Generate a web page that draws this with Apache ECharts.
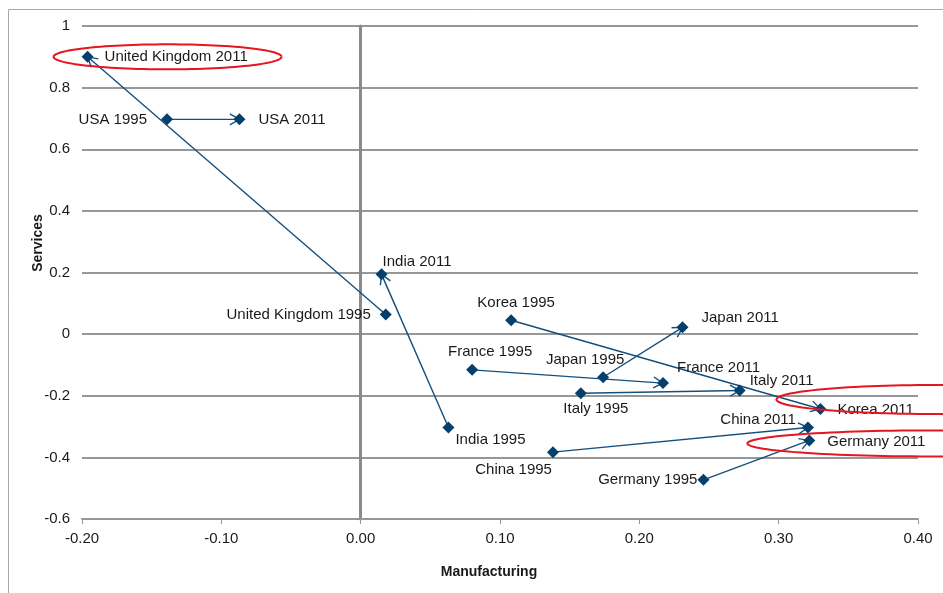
<!DOCTYPE html>
<html>
<head>
<meta charset="utf-8">
<script src="https://cdn.jsdelivr.net/npm/echarts@6/dist/echarts.min.js"></script>
<style>
  html, body { margin: 0; padding: 0; background: #fff; }
  #chart { width: 943px; height: 593px; }
</style>
</head>
<body>
<div id="chart"></div>
<script>
// Change in revealed comparative advantage, 1995 -> 2011
const countries = ['United Kingdom', 'USA', 'India', 'Korea', 'Japan', 'France', 'Italy', 'China', 'Germany'];
const manufacturing1995 = [0.018, -0.139, 0.063, 0.108, 0.174, 0.080, 0.158, 0.138, 0.246];
const services1995      = [0.064, 0.697, -0.303, 0.045, -0.140, -0.116, -0.192, -0.383, -0.473];
const manufacturing2011 = [-0.196, -0.087, 0.015, 0.330, 0.231, 0.217, 0.272, 0.321, 0.322];
const services2011      = [0.900, 0.697, 0.194, -0.243, 0.022, -0.159, -0.183, -0.303, -0.345];
const years = ['1995', '2011'];
const highlighted = ['United Kingdom', 'Korea', 'Germany'];

const xTicks = { min: -0.2, max: 0.4, step: 0.1 };
const yTicks = { min: -0.6, max: 1.0, step: 0.2 };

// Label placement around each diamond: pixel offset from the point and text alignment
const labelPlacement = {
  'United Kingdom 1995': { dx: -15, dy: 0, align: 'right' },
  'United Kingdom 2011': { dx: 17, dy: 0, align: 'left' },
  'USA 1995': { dx: -20, dy: 0, align: 'right' },
  'USA 2011': { dx: 19, dy: 0, align: 'left' },
  'India 1995': { dx: 7, dy: 12, align: 'left' },
  'India 2011': { dx: 1, dy: -12, align: 'left' },
  'Korea 1995': { dx: 5, dy: -17, align: 'center' },
  'Korea 2011': { dx: 17, dy: 1, align: 'left' },
  'Japan 1995': { dx: -18, dy: -17, align: 'center' },
  'Japan 2011': { dx: 19, dy: -9, align: 'left' },
  'France 1995': { dx: 18, dy: -18, align: 'center' },
  'France 2011': { dx: 14, dy: -15, align: 'left' },
  'Italy 1995': { dx: 15, dy: 16, align: 'center' },
  'Italy 2011': { dx: 10, dy: -10, align: 'left' },
  'China 1995': { dx: -1, dy: 18, align: 'right' },
  'China 2011': { dx: -12, dy: -8, align: 'right' },
  'Germany 1995': { dx: -6, dy: 0, align: 'right' },
  'Germany 2011': { dx: 18, dy: 1, align: 'left' }
};

// Red ring drawn around the highlighted 2011 labels (pixel offsets and radii)
const ringStyle = {
  'United Kingdom': { dx: 80, dy: 0, rx: 114, ry: 12.5 },
  'Korea': { dx: 114, dy: -9.5, rx: 158, ry: 14.5 },
  'Germany': { dx: 121, dy: 3, rx: 183, ry: 13 }
};

const MARK_COLOR = '#053f6b';
const ARROW_COLOR = '#154f7c';
const GRID_COLOR = '#979797';
const TEXT_FONT = '15px "Liberation Sans", Arial, sans-serif';

const points1995 = countries.map((c, i) => [manufacturing1995[i], services1995[i], c + ' ' + years[0]]);
const points2011 = countries.map((c, i) => [manufacturing2011[i], services2011[i], c + ' ' + years[1]]);
const arrows = countries.map((c, i) => [manufacturing1995[i], services1995[i], manufacturing2011[i], services2011[i]]);
const rings = highlighted.map(c => {
  const i = countries.indexOf(c);
  return [manufacturing2011[i], services2011[i], c];
});

function renderArrow(params, api) {
  const p0 = api.coord([api.value(0), api.value(1)]);
  const p1 = api.coord([api.value(2), api.value(3)]);
  const ang = Math.atan2(p1[1] - p0[1], p1[0] - p0[0]);
  const len = 11, spread = 0.52;
  const a1 = [p1[0] - len * Math.cos(ang - spread), p1[1] - len * Math.sin(ang - spread)];
  const a2 = [p1[0] - len * Math.cos(ang + spread), p1[1] - len * Math.sin(ang + spread)];
  const style = { stroke: ARROW_COLOR, lineWidth: 1.4, fill: null };
  return {
    type: 'group',
    children: [
      { type: 'line', shape: { x1: p0[0], y1: p0[1], x2: p1[0], y2: p1[1] }, style: style },
      { type: 'polyline', shape: { points: [a1, p1, a2] }, style: style }
    ]
  };
}

function renderLabel(params, api) {
  const p = api.coord([api.value(0), api.value(1)]);
  const name = api.value(2);
  const pl = labelPlacement[name] || { dx: 10, dy: 0, align: 'left' };
  return {
    type: 'text',
    x: p[0] + pl.dx,
    y: p[1] + pl.dy,
    style: { text: name, font: TEXT_FONT, fill: '#1a1a1a', align: pl.align, verticalAlign: 'middle' }
  };
}

function renderRing(params, api) {
  const p = api.coord([api.value(0), api.value(1)]);
  const rs = ringStyle[api.value(2)];
  const cx = p[0] + rs.dx, cy = p[1] + rs.dy;
  const pts = [];
  for (let k = 0; k <= 120; k++) {
    const t = (k / 120) * Math.PI * 2;
    pts.push([cx + rs.rx * Math.cos(t), cy + rs.ry * Math.sin(t)]);
  }
  return {
    type: 'polyline',
    shape: { points: pts },
    style: { stroke: '#e5161d', lineWidth: 2, fill: null }
  };
}

const chart = echarts.init(document.getElementById('chart'), null, { renderer: 'canvas' });

chart.setOption({
  animation: false,
  backgroundColor: '#ffffff',
  textStyle: { fontFamily: '"Liberation Sans", Arial, sans-serif' },
  grid: { left: 82, right: 25, top: 26, bottom: 74, containLabel: false },
  graphic: [
    {
      type: 'rect', x: 8.5, y: 9.5, z: -10, silent: true,
      shape: { x: 0, y: 0, width: 1200, height: 900 },
      style: { fill: null, stroke: '#a8a8a8', lineWidth: 1 }
    },
    {
      type: 'text', x: 489, y: 572, silent: true,
      style: { text: 'Manufacturing', font: 'bold 14px "Liberation Sans", Arial, sans-serif', fill: '#1a1a1a', align: 'center', verticalAlign: 'middle' }
    },
    {
      type: 'text', x: 38, y: 243, rotation: Math.PI / 2, silent: true,
      style: { text: 'Services', font: 'bold 14px "Liberation Sans", Arial, sans-serif', fill: '#1a1a1a', align: 'center', verticalAlign: 'middle' }
    }
  ],
  xAxis: {
    type: 'value',
    min: xTicks.min, max: xTicks.max, interval: xTicks.step,
    axisLine: { show: true, onZero: false, lineStyle: { color: GRID_COLOR, width: 2 } },
    axisTick: { show: true, length: 5, lineStyle: { color: GRID_COLOR, width: 1 } },
    axisLabel: { margin: 12, fontSize: 15, color: '#1a1a1a', formatter: v => v.toFixed(2) },
    splitLine: { show: false }
  },
  yAxis: [
    {
      type: 'value',
      min: yTicks.min, max: yTicks.max, interval: yTicks.step,
      axisLine: { show: false, onZero: false },
      axisTick: { show: false },
      axisLabel: {
        margin: 12, fontSize: 15, color: '#1a1a1a',
        formatter: v => (Math.abs(v) < 1e-9 ? '0' : (Math.abs(v - 1) < 1e-9 ? '1' : v.toFixed(1)))
      },
      splitLine: { show: true, lineStyle: { color: GRID_COLOR, width: 2 } }
    },
    {
      // vertical axis line drawn through manufacturing = 0
      type: 'value', position: 'left',
      min: yTicks.min, max: yTicks.max, interval: yTicks.step,
      axisLine: { show: true, onZero: true, lineStyle: { color: '#8a8a8a', width: 3 } },
      axisTick: { show: true, length: 4, lineStyle: { color: '#8a8a8a', width: 1 } },
      axisLabel: { show: false },
      splitLine: { show: false }
    }
  ],
  series: [
    {
      type: 'custom', name: 'shift', z: 2,
      renderItem: renderArrow,
      encode: { x: [0, 2], y: [1, 3] },
      data: arrows
    },
    {
      type: 'scatter', name: years[0], z: 3,
      symbol: 'diamond', symbolSize: 12,
      itemStyle: { color: MARK_COLOR, opacity: 1 },
      data: points1995
    },
    {
      type: 'scatter', name: years[1], z: 3,
      symbol: 'diamond', symbolSize: 12,
      itemStyle: { color: MARK_COLOR, opacity: 1 },
      data: points2011
    },
    {
      type: 'custom', name: 'labels', z: 4,
      renderItem: renderLabel,
      encode: { x: 0, y: 1 },
      data: points1995.concat(points2011)
    },
    {
      type: 'custom', name: 'rings', z: 5,
      renderItem: renderRing,
      encode: { x: 0, y: 1 },
      data: rings
    }
  ]
});
</script>
</body>
</html>
